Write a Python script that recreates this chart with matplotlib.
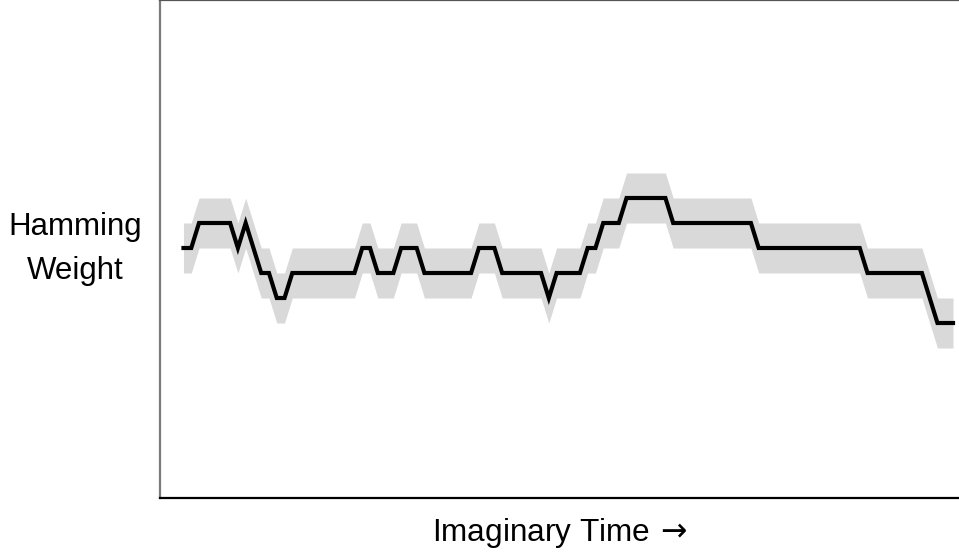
import numpy as np
import matplotlib
matplotlib.use("Agg")
import matplotlib.pyplot as plt

plt.rcParams['font.family'] = ['Liberation Sans', 'DejaVu Sans']
plt.rcParams['mathtext.fontset'] = 'dejavusans'

# Hamming weight level at each time step
weight = [
    3, 3, 4, 4, 4, 4, 4, 3, 4, 3,
    2, 2, 1, 1, 2, 2, 2, 2, 2, 2,
    2, 2, 2, 3, 3, 2, 2, 2, 3, 3,
    3, 2, 2, 2, 2, 2, 2, 2, 3, 3,
    3, 2, 2, 2, 2, 2, 2, 1, 2, 2,
    2, 2, 3, 3, 4, 4, 4, 5, 5, 5,
    5, 5, 5, 4, 4, 4, 4, 4, 4, 4,
    4, 4, 4, 4, 3, 3, 3, 3, 3, 3,
    3, 3, 3, 3, 3, 3, 3, 3, 2, 2,
    2, 2, 2, 2, 2, 2, 1, 0, 0, 0,
]
band_halfwidth = 1
x_label = r"Imaginary Time$\,\rightarrow$"
y_label = "Hamming\nWeight"

t = np.arange(len(weight))
w = np.array(weight, dtype=float)

fig = plt.figure(figsize=(9.59, 5.52), dpi=100)
ax = fig.add_axes([160 / 959, 54 / 552, 799 / 959, 498 / 552])

ax.fill_between(t, w - band_halfwidth, w + band_halfwidth,
                color='#d9d9d9', linewidth=0)
ax.plot(t, w, color='black', linewidth=3.0, solid_joinstyle='miter')

ax.set_xlim(-3.02, 99.77)
ax.set_ylim(-7.0, 12.92)
ax.set_xticks([])
ax.set_yticks([])

ax.spines['right'].set_visible(False)
ax.spines['left'].set_color('#7a7a7a')
ax.spines['left'].set_linewidth(1.6)
ax.spines['top'].set_color('#555555')
ax.spines['top'].set_linewidth(1.6)
ax.spines['bottom'].set_color('black')
ax.spines['bottom'].set_linewidth(1.6)

ax.set_xlabel(x_label, fontsize=22.7)
ax.xaxis.set_label_coords(0.5, -35 / 498)
ax.xaxis.label.set_va('center')

ax.set_ylabel(y_label, fontsize=22.5, rotation=0, ha='center', va='center',
              linespacing=1.62)
ax.yaxis.set_label_coords(-85 / 799, 0.5)

fig.savefig('out.png', dpi=100)
